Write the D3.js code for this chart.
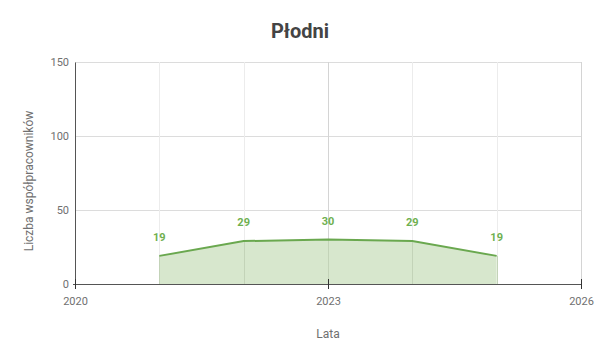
<!DOCTYPE html>
<html>
<head>
<meta charset="utf-8">
<script src="https://cdn.jsdelivr.net/npm/d3@7"></script>
<style>
  body { margin: 0; background: #fff; }
  svg text { font-family: Roboto, "Noto Sans", sans-serif; }
</style>
</head>
<body>
<div id="chart"></div>
<script>
// data
const years = [2021, 2022, 2023, 2024, 2025];
const counts = [19, 29, 30, 29, 19];
const xTicks = [2020, 2023, 2026];
const yTicks = [0, 50, 100, 150];
const gridYears = [2021, 2022, 2023, 2024, 2025, 2026];

const width = 600, height = 360;
const margin = { top: 62, right: 19, bottom: 76, left: 75 };
const LINE = "#6aa84f";
const LABEL = "#6fb050";
const FILL = "#d3e4c8";
const GRID = "#dcdcdc";
const AXIS = "#555";
const TEXT = "#707070";

const svg = d3.select("#chart").append("svg")
    .attr("width", width)
    .attr("height", height);

const x = d3.scaleLinear().domain([2020, 2026]).range([margin.left, width - margin.right]);
const y = d3.scaleLinear().domain([0, 150]).range([height - margin.bottom, margin.top]);

const data = years.map((yr, i) => ({ year: yr, value: counts[i] }));

// title
svg.append("text")
    .attr("x", width / 2)
    .attr("y", 38)
    .attr("text-anchor", "middle")
    .style("font-size", "20px")
    .style("font-weight", "bold")
    .style("fill", "#444")
    .text("Płodni");

// grid
svg.append("g")
    .selectAll("line")
    .data(yTicks.filter(d => d > 0))
    .enter().append("line")
    .attr("x1", x.range()[0]).attr("x2", x.range()[1])
    .attr("y1", d => y(d) + 0.5).attr("y2", d => y(d) + 0.5)
    .attr("stroke", GRID);

svg.append("g")
    .selectAll("line")
    .data(gridYears)
    .enter().append("line")
    .attr("x1", d => Math.round(x(d)) + 0.5).attr("x2", d => Math.round(x(d)) + 0.5)
    .attr("y1", y.range()[1]).attr("y2", y.range()[0])
    .attr("stroke", d => xTicks.includes(d) ? "#d4d4d4" : "#ececec");

// area + line
const area = d3.area()
    .x(d => x(d.year))
    .y0(y(0))
    .y1(d => y(d.value));
const line = d3.line()
    .x(d => x(d.year))
    .y(d => y(d.value));

svg.append("path")
    .datum(data)
    .attr("d", area)
    .attr("fill", FILL)
    .attr("fill-opacity", 0.9);

// gridlines show faintly through the area
svg.append("g")
    .selectAll("line")
    .data(gridYears.filter(d => d < 2026))
    .enter().append("line")
    .attr("x1", d => Math.round(x(d)) + 0.5).attr("x2", d => Math.round(x(d)) + 0.5)
    .attr("y1", y.range()[0]).attr("y2", d => y(counts[years.indexOf(d)]))
    .attr("stroke", "#c3d3b8")
    .attr("stroke-width", 1);

svg.append("path")
    .datum(data)
    .attr("d", line)
    .attr("fill", "none")
    .attr("stroke", LINE)
    .attr("stroke-width", 2);

// value labels
svg.append("g")
    .selectAll("text")
    .data(data)
    .enter().append("text")
    .attr("x", d => x(d.year))
    .attr("y", d => y(d.value) - 15)
    .attr("text-anchor", "middle")
    .style("font-size", "11px")
    .style("font-weight", "bold")
    .style("fill", LABEL)
    .text(d => d.value);

// y axis
const yAxis = svg.append("g")
    .attr("transform", `translate(${margin.left},0)`)
    .call(d3.axisLeft(y).tickValues(yTicks).tickSize(0).tickPadding(6));
yAxis.select(".domain").attr("stroke", AXIS);
yAxis.selectAll("text").attr("fill", TEXT).style("font-size", "11px").attr("font-family", null);

// x axis
const xAxis = svg.append("g")
    .attr("transform", `translate(0,${height - margin.bottom})`)
    .call(d3.axisBottom(x).tickValues(xTicks).tickFormat(d3.format("d")).tickSize(5).tickSizeOuter(0).tickPadding(8));
xAxis.select(".domain").attr("stroke", AXIS).attr("d", `M${margin.left - 2},0.5H${width - margin.right}`);
xAxis.selectAll(".tick line").attr("stroke", "#333").attr("y1", -5);
xAxis.selectAll("text").attr("fill", TEXT).style("font-size", "11px").attr("font-family", null);

// axis titles
svg.append("text")
    .attr("x", x(2023))
    .attr("y", 338)
    .attr("text-anchor", "middle")
    .style("font-size", "12px")
    .style("fill", TEXT)
    .text("Lata");

svg.append("text")
    .attr("transform", `translate(33,181) rotate(-90)`)
    .attr("text-anchor", "middle")
    .style("font-size", "12px")
    .style("fill", TEXT)
    .text("Liczba współpracowników");
</script>
</body>
</html>
